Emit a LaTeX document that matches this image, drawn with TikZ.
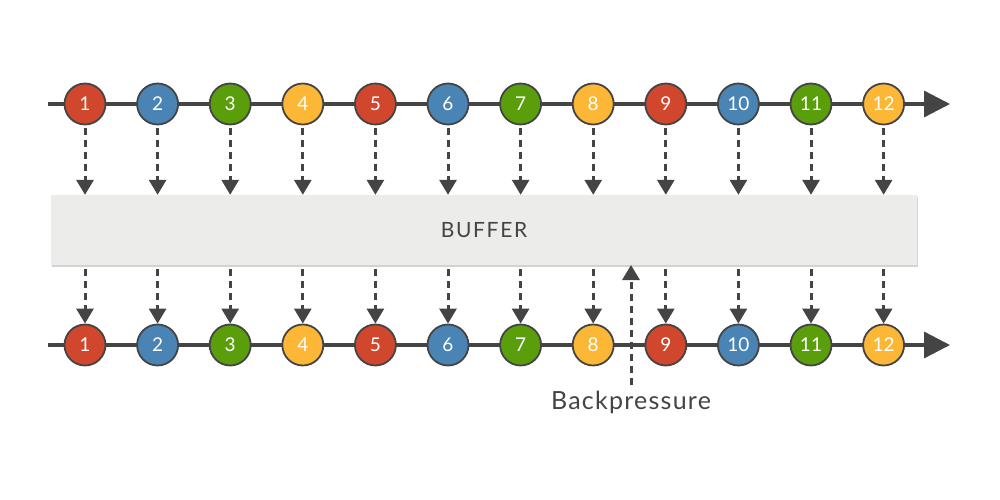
\documentclass[tikz,border=0pt]{standalone}
\usepackage{fontspec}
\setmainfont{Lato}
\usetikzlibrary{arrows.meta,shadows}
\definecolor{cred}{HTML}{D0472D}
\definecolor{cblue}{HTML}{4A84B4}
\definecolor{cgreen}{HTML}{5A9E0C}
\definecolor{cyellow}{HTML}{FBB735}
\definecolor{ink}{HTML}{444444}
\definecolor{bufgray}{HTML}{ECECEB}
\tikzset{
  ball/.style={circle,draw=ink,line width=1.8pt,minimum size=41pt,inner sep=0pt,text=white,font=\fontsize{19}{19}\selectfont},
  timeline/.style={draw=ink,line width=3.4pt,-{Triangle[length=26pt,width=26pt]}},
  flow/.style={draw=ink,line width=3pt,dash pattern=on 7pt off 5pt,-{Triangle[length=15pt,width=17pt]}},
  bufbox/.style={fill=bufgray,minimum width=866pt,minimum height=70pt,inner sep=0pt,drop shadow={shadow xshift=1pt,shadow yshift=-2pt,opacity=0.35},font=\fontsize{21}{21}\selectfont,text=ink}
}
\begin{document}
\begin{tikzpicture}[x=1pt,y=-1pt]
\useasboundingbox (0,0) rectangle (1000,500);
\coordinate (ts) at (48,104);
\coordinate (te) at (950,104);
\coordinate (bs) at (48,345);
\coordinate (be) at (950,345);
\draw[timeline] (ts) -- (te);
\draw[timeline] (bs) -- (be);
\node[bufbox] (buf) at (484,230) {\addfontfeatures{LetterSpace=8}BUFFER};
\foreach \i/\c in {1/cred,2/cblue,3/cgreen,4/cyellow,5/cred,6/cblue,7/cgreen,8/cyellow,9/cred,10/cblue,11/cgreen,12/cyellow}{
  \pgfmathsetmacro{\xx}{85+(\i-1)*72.6}
  \node[ball,fill=\c] (t\i) at (\xx,104) {\i};
  \node[ball,fill=\c] (b\i) at (\xx,345) {\i};
  \draw[flow] (t\i.south) ++(0,3) -- (t\i.south |- buf.north);
  \draw[flow] (b\i.north |- buf.south) ++(0,4) -- (b\i.north);
}
\node[font=\fontsize{25}{25}\selectfont,text=ink] (bp) at (631,402) {\addfontfeatures{LetterSpace=5}Backpressure};
\coordinate (bpe) at (631,265);
\draw[flow] (bp.north) ++(0,-2) -- (bpe);
\end{tikzpicture}
\end{document}
